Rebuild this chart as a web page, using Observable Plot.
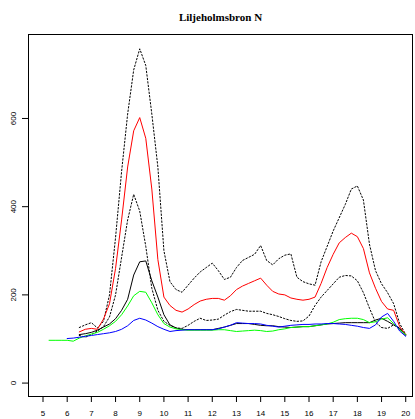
<!DOCTYPE html>
<html>
<head>
<meta charset="utf-8">
<script src="https://cdn.jsdelivr.net/npm/d3@7"></script>
<script src="https://cdn.jsdelivr.net/npm/@observablehq/plot@0.6"></script>
<style>
  html, body { margin: 0; padding: 0; background: #fff; }
</style>
</head>
<body>
<div id="chart"></div>
<script>
const title = "Liljeholmsbron N";
const xTicks = [5, 6, 7, 8, 9, 10, 11, 12, 13, 14, 15, 16, 17, 18, 19, 20];
const yTicks = [0, 200, 400, 600];
const step = 0.25; // quarter-hour sampling

// upper dotted band, starts 6.5
const upperStart = 6.5;
const upper = [126,132,137,125,140,200,330,480,610,710,
  758,720,610,490,300,230,212,206,222,238,
  252,262,272,255,235,240,262,278,285,292,
  312,278,268,282,290,293,240,230,225,222,
  275,310,345,375,405,440,447,415,315,255,
  225,205,180,135,110];

// lower dotted band, starts 6.5
const lowerStart = 6.5;
const lower = [108,104,110,118,128,150,200,285,370,428,
  390,310,215,165,140,131,125,124,131,140,
  147,142,143,145,154,162,167,165,163,163,
  163,158,155,151,146,142,140,141,152,176,
  195,210,225,240,244,243,232,205,170,138,
  126,124,132,125,110];

// red, starts 6.5
const redStart = 6.5;
const red = [116,122,124,122,145,180,260,370,490,572,
  602,555,440,280,195,176,165,161,168,178,
  186,190,192,192,188,198,212,220,226,232,
  238,222,208,202,200,193,190,188,190,195,
  226,262,292,318,330,340,332,305,250,215,
  185,168,165,128,110];

// black, starts 6.5
const blackStart = 6.5;
const black = [110,112,115,120,127,134,146,165,190,245,
  275,277,232,195,155,132,125,122,121,121,
  121,121,121,124,127,131,135,135,135,133,
  131,130,130,128,127,126,127,128,128,130,
  132,134,135,136,137,137,137,137,137,143,
  147,140,132,124,108];

// green, starts 5.25
const greenStart = 5.25;
const green = [97,97,97,97,95,102,107,111,115,122,
  130,140,155,175,198,208,206,182,155,135,
  127,123,121,120,120,120,120,120,121,121,
  119,117,118,119,120,119,117,118,121,123,
  126,127,128,128,130,132,134,138,144,146,
  147,147,144,137,139,145,148,135,121,110];

// blue, starts 6.0
const blueStart = 6.0;
const blue = [101,102,104,106,108,110,112,114,117,122,
  130,142,147,143,136,128,122,117,119,120,
  121,121,121,121,121,123,127,131,137,136,
  135,135,134,131,129,127,129,131,132,133,
  133,134,134,135,135,134,133,131,129,126,
  124,132,150,158,140,118,106];

const rows = (start, vals) => vals.map((v, i) => ({hour: start + i * step, value: v}));

const chart = Plot.plot({
  width: 415,
  height: 419,
  marginLeft: 28,
  marginRight: 3,
  marginTop: 34,
  marginBottom: 23,
  x: {domain: [4.4, 20.28]},
  y: {domain: [-30.4, 790.4]},
  style: {fontFamily: "Liberation Sans, Arial, sans-serif", fontSize: "8px", background: "#fff", color: "#000"},
  marks: [
    Plot.line(rows(upperStart, upper), {x: "hour", y: "value", stroke: "#000", strokeWidth: 1, strokeDasharray: "1.5,2"}),
    Plot.line(rows(lowerStart, lower), {x: "hour", y: "value", stroke: "#000", strokeWidth: 1, strokeDasharray: "1.5,2"}),
    Plot.line(rows(redStart, red), {x: "hour", y: "value", stroke: "#ff0000", strokeWidth: 1}),
    Plot.line(rows(blackStart, black), {x: "hour", y: "value", stroke: "#000", strokeWidth: 1}),
    Plot.line(rows(greenStart, green), {x: "hour", y: "value", stroke: "#00ff00", strokeWidth: 1}),
    Plot.line(rows(blueStart, blue), {x: "hour", y: "value", stroke: "#0000ff", strokeWidth: 1}),
    Plot.frame({stroke: "#000", strokeWidth: 1}),
    Plot.axisX({ticks: xTicks, tickSize: 6, tickPadding: 8, fontSize: 8, label: null, tickFormat: d => String(d)}),
    Plot.axisY({ticks: yTicks, tickSize: 6, label: null, tickFormat: () => ""}),
    Plot.text(yTicks, {y: d => d, text: d => String(d), frameAnchor: "left", dx: -14.7, rotate: -90, fontSize: 8, textAnchor: "middle", lineAnchor: "middle"}),
    Plot.text([title], {text: d => d, frameAnchor: "top", dy: -17.5, lineAnchor: "middle", fontFamily: "Liberation Serif, Times New Roman, serif", fontWeight: "bold", fontSize: 11})
  ]
});
document.getElementById("chart").appendChild(chart);
</script>
</body>
</html>
